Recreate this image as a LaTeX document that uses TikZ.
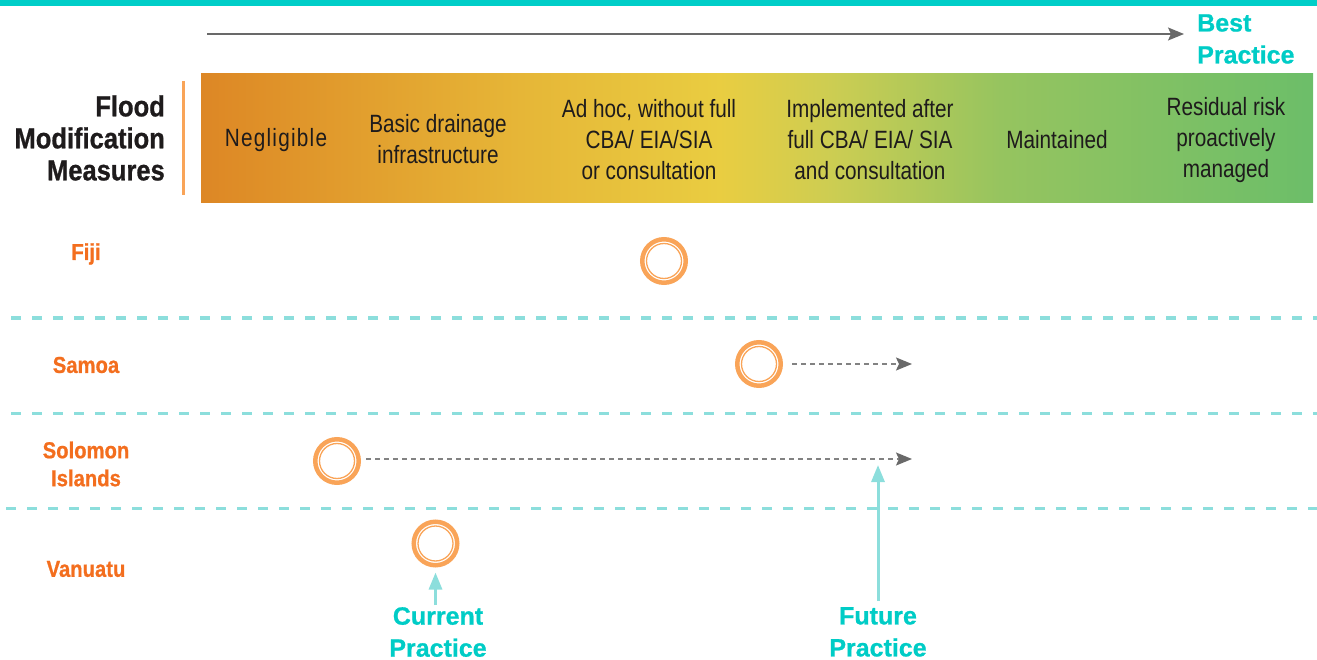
\documentclass[tikz,border=0pt]{standalone}
\usepackage{fontspec}
\setmainfont{Liberation Sans}
\newfontfamily\condf[FakeStretch=0.83]{Liberation Sans}
\newfontfamily\condb[FakeStretch=0.88,FakeBold=0.8]{Liberation Sans Bold}
\newfontfamily\heavyf[FakeBold=0.8]{Liberation Sans Bold}
\usetikzlibrary{arrows.meta}
\definecolor{tealbar}{RGB}{0,206,200}
\definecolor{tealtxt}{RGB}{0,204,198}
\definecolor{teallight}{RGB}{140,222,220}
\definecolor{ringor}{RGB}{249,164,88}
\definecolor{ctryor}{RGB}{243,110,30}
\definecolor{txtdark}{RGB}{30,27,28}
\definecolor{arrgray}{RGB}{105,105,105}
\definecolor{dgray}{RGB}{130,130,130}
\definecolor{gA}{RGB}{221,135,37}
\definecolor{gB}{RGB}{230,182,55}
\definecolor{gC}{RGB}{233,205,65}
\definecolor{gD}{RGB}{205,205,82}
\definecolor{gE}{RGB}{150,196,95}
\definecolor{gF}{RGB}{108,190,105}
\tikzset{
  coltext/.style={inner sep=0pt, align=center, text=txtdark, font=\condf\fontsize{25}{31}\selectfont},
  ctry/.style={inner sep=0pt, align=center, text=ctryor, font=\condb\fontsize{23}{28}\selectfont},
  practice/.style={inner sep=0pt, align=center, text=tealtxt, font=\heavyf\fontsize{25}{32}\selectfont},
  ring/.style={circle, draw=ringor, line width=4.5pt, minimum size=43.5pt, inner sep=0pt,
    append after command={\pgfextra{\draw[ringor, line width=1.3pt] (\tikzlastnode.center) circle (17.5pt);}}},
  tealdash/.style={draw=teallight, line width=3pt, dash pattern=on 10pt off 11pt},
  grayarrow/.style={draw=dgray, line width=1.6pt, dash pattern=on 5pt off 4pt,
    -{Stealth[length=16pt,width=13pt,inset=3pt,color=arrgray,sep=0pt]}},
  tealarrow/.style={draw=teallight, line width=3pt, -{Triangle[length=17pt,width=13pt]}},
}
\begin{document}
\begin{tikzpicture}[x=1pt,y=-1pt]
\useasboundingbox (0,0) rectangle (1317,660);
% top bar
\fill[tealbar] (0,0) rectangle (1317,6);
% top arrow
\coordinate (topstart) at (207,34);
\coordinate (topend) at (1184,34);
\draw[arrgray, line width=1.5pt, -{Stealth[length=16pt,width=13pt,inset=3pt]}] (topstart) -- (topend);
\node[practice, anchor=west, align=left] (best) at (1197,39) {Best\\Practice};
% gradient bar
\shade[left color=gA, right color=gB] (201,74) rectangle (520.5,202.5);
\shade[left color=gB, right color=gC] (520,74) rectangle (720.5,202.5);
\shade[left color=gC, right color=gD] (720,74) rectangle (830.5,202.5);
\shade[left color=gD, right color=gE] (830,74) rectangle (1000.5,202.5);
\shade[left color=gE, right color=gF] (1000,74) rectangle (1313,202.5);
% orange separator
\draw[ringor, line width=2.5pt] (183.5,81) -- (183.5,195);
\node[inner sep=0pt, align=right, anchor=east, text=txtdark, font=\condb\fontsize{29}{32}\selectfont] (title) at (165,138) {Flood\\Modification\\Measures};
% column texts
\node[coltext, font=\condf\fontsize{25}{31}\selectfont\addfontfeature{LetterSpace=5}] (c1) at (276,140) {Negligible};
\node[coltext] (c2) at (438,139.5) {Basic drainage\\infrastructure};
\node[coltext] (c3) at (649,140) {Ad hoc, without full\\CBA/ EIA/SIA\\or consultation};
\node[coltext] (c4) at (870,140) {Implemented after\\full CBA/ EIA/ SIA\\and consultation};
\node[coltext] (c5) at (1057,140) {Maintained};
\node[coltext] (c6) at (1226,140) {Residual risk\\proactively\\managed};
% countries
\node[ctry] (fiji) at (86,254) {Fiji};
\node[ctry] (samoa) at (86,365) {Samoa};
\node[ctry] (solomon) at (86,464) {Solomon\\Islands};
\node[ctry] (vanuatu) at (86,569) {Vanuatu};
% separators
\draw[tealdash] (11,318) -- (1317,318);
\draw[tealdash] (11,413) -- (1317,413);
\draw[tealdash] (6,508) -- (1317,508);
% circles
\node[ring] (cfiji) at (664,261) {};
\node[ring] (csamoa) at (759,364) {};
\node[ring] (csol) at (337,461) {};
\node[ring] (cvan) at (435.5,543.5) {};
% dashed arrows
\coordinate (samoaend) at (912,364);
\coordinate (solend) at (912,459);
\draw[grayarrow] ([xshift=9pt]csamoa.east) -- (samoaend);
\draw[grayarrow] ([xshift=5pt,yshift=2pt]csol.east) -- (solend);
% practice labels
\node[practice, anchor=north] (cur) at (438,607) {Current\\Practice};
\node[practice, anchor=north] (fut) at (878,607) {Future\\Practice};
\coordinate (futend) at (878,465);
\draw[tealarrow, shorten <=2pt, shorten >=5pt] (cur.north -| cvan.south) -- (cvan.south);
\draw[tealarrow, shorten <=6pt] (fut.north) -- (futend);
\end{tikzpicture}
\end{document}
